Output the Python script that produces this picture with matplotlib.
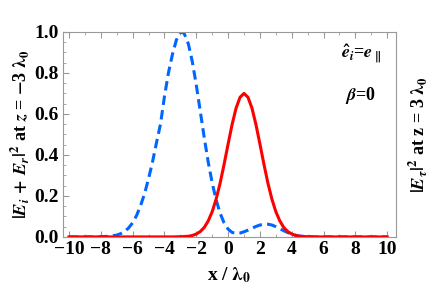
import matplotlib
matplotlib.use("Agg")
import matplotlib.pyplot as plt
from matplotlib.ticker import MultipleLocator

plt.rcParams['font.family'] = 'Liberation Serif'
plt.rcParams['font.weight'] = 'bold'
plt.rcParams['axes.labelweight'] = 'bold'
plt.rcParams['mathtext.fontset'] = 'stix'
plt.rcParams['mathtext.default'] = 'bf'

# incident + reflected intensity at z = -3 lambda0 (blue dashed)
x_inc = [-10, -9, -8.5, -8, -7.5, -7, -6.75, -6.5, -6.25, -6, -5.75, -5.5, -5.25,
         -5, -4.75, -4.5, -4.25, -4, -3.75, -3.5, -3.25, -3, -2.9, -2.75, -2.5,
         -2.25, -2, -1.75, -1.5, -1.25, -1, -0.75, -0.5, -0.25, 0, 0.25, 0.5,
         0.75, 1, 1.25, 1.5, 1.75, 2, 2.25, 2.5, 2.75, 3, 3.25, 3.5, 3.75, 4,
         4.25, 4.5, 5, 5.5, 10]
y_inc = [0.0, 0.0, 0.0, 0.001, 0.003, 0.009, 0.016, 0.027, 0.044, 0.069, 0.105,
         0.153, 0.211, 0.284, 0.366, 0.46, 0.55, 0.685, 0.80, 0.89, 0.961, 0.997,
         1.0, 0.99, 0.942, 0.855, 0.741, 0.613, 0.484, 0.365, 0.263, 0.18, 0.115,
         0.068, 0.038, 0.022, 0.017, 0.019, 0.025, 0.033, 0.042, 0.051, 0.058,
         0.062, 0.062, 0.058, 0.050, 0.040, 0.030, 0.021, 0.013, 0.008, 0.004,
         0.001, 0.0, 0.0]

# transmitted intensity at z = 3 lambda0 (red solid)
x_tr = [-10, -3.5, -3, -2.5, -2.25, -2, -1.75, -1.5, -1.25, -1, -0.75, -0.5, -0.25,
        0, 0.25, 0.5, 0.75, 1, 1.25, 1.5, 1.75, 2, 2.25, 2.5, 2.75, 3, 3.25,
        3.5, 3.75, 4, 4.25, 4.5, 5, 5.5, 10]
y_tr = [0.0, 0.0, 0.001, 0.003, 0.007, 0.014, 0.026, 0.046, 0.078, 0.123, 0.185,
        0.263, 0.355, 0.453, 0.548, 0.628, 0.681, 0.700, 0.681, 0.628, 0.548,
        0.453, 0.355, 0.263, 0.185, 0.123, 0.078, 0.046, 0.026, 0.014, 0.007,
        0.003, 0.001, 0.0, 0.0]

x_ticks = [-10, -8, -6, -4, -2, 0, 2, 4, 6, 8, 10]
y_ticks = [0.0, 0.2, 0.4, 0.6, 0.8, 1.0]

fig = plt.figure(figsize=(4.29, 2.98), dpi=100)
ax = fig.add_axes([0.146, 0.205, 0.777, 0.688])

ax.plot(x_tr, y_tr, color='#ff0000', lw=2.2, zorder=3)
ax.plot(x_inc, y_inc, color='#0066ff', lw=2.2, dashes=(3.1, 1.7), zorder=2)

ax.set_xlim(-10.4, 10.55)
ax.set_ylim(0, 1.0)
ax.set_xticks(x_ticks)
ax.set_yticks(y_ticks)
ax.set_xticklabels(['\u221210', '\u22128', '\u22126', '\u22124', '\u22122', '0',
                    '2', '4', '6', '8', '10'])
ax.set_yticklabels(['%.1f' % v for v in y_ticks])
ax.xaxis.set_minor_locator(MultipleLocator(1))
ax.yaxis.set_minor_locator(MultipleLocator(0.05))
ax.tick_params(which='both', direction='in', top=True, right=True,
               color='#999999', labelsize=14, pad=3)
ax.tick_params(which='major', length=4, width=0.8)
ax.tick_params(which='minor', length=2, width=0.6)
for s in ax.spines.values():
    s.set_color('#999999')
    s.set_linewidth(0.8)

ax.set_xlabel(r'x / $\lambda_0$', fontsize=14, labelpad=5)
ax.set_ylabel(r'$|\mathbfit{E}_{\mathbfit{i}}\,+\,\mathbfit{E}_{\mathbfit{r}}|^2$ at $\mathbfit{z}$ = $-$3 $\lambda_0$',
              fontsize=13, labelpad=2)
ax2 = ax.twinx()
ax2.set_yticks([])
ax2.set_ylabel(r'$|\mathbfit{E}_{\mathbfit{\tau}}|^2$ at z = 3 $\lambda_0$',
               fontsize=13, labelpad=7)
for s in ax2.spines.values():
    s.set_visible(False)

ax.text(8.35, 0.89, r'$\hat{\mathbfit{e}}_{\mathbfit{i}}$=$\mathbfit{e}_{\parallel}$',
        fontsize=13, ha='center', va='center')
ax.text(8.3, 0.69, r'$\mathbfit{\beta}$=0', fontsize=13, ha='center', va='center')

fig.savefig('out.png', dpi=100)
